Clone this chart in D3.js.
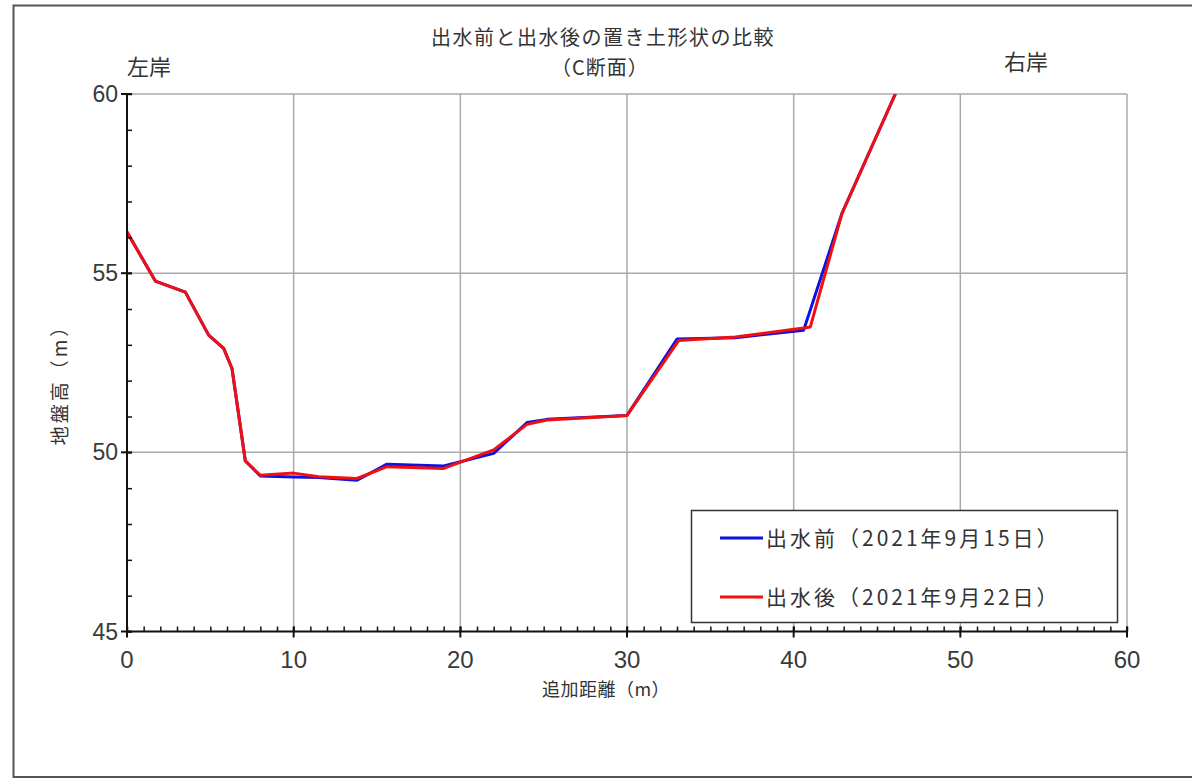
<!DOCTYPE html>
<html>
<head>
<meta charset="utf-8">
<script src="https://cdn.jsdelivr.net/npm/d3@7"></script>
<style>
  html, body { margin: 0; padding: 0; background: #fff; }
  svg { display: block; }
  text { font-family: "Noto Sans CJK JP", "Noto Sans", sans-serif; fill: #333; }
  .num { font-family: "Liberation Sans", Arial, sans-serif; fill: #3a3a3a; }
</style>
</head>
<body>
<svg id="chart" width="1192" height="778"></svg>
<script>
// Cross-section survey: distance along section (m) vs ground elevation (m)
const beforeDist = [0, 1.7, 3.5, 4.9, 5.8, 6.3, 7.1, 8.0, 10.0, 11.5, 13.8, 15.6, 19.0, 22.0, 24.0, 25.2, 30.0, 33.0, 36.5, 40.6, 42.9, 46.1];
const beforeElev = [56.15, 54.78, 54.47, 53.27, 52.9, 52.34, 49.76, 49.34, 49.31, 49.3, 49.22, 49.67, 49.62, 49.97, 50.83, 50.92, 51.03, 53.16, 53.2, 53.41, 56.67, 60.0];

const afterDist = [0, 1.7, 3.5, 4.9, 5.8, 6.3, 7.1, 8.0, 10.0, 11.5, 13.8, 15.6, 19.0, 22.0, 24.0, 25.2, 30.0, 33.1, 36.5, 40.6, 41.0, 42.9, 46.1];
const afterElev = [56.15, 54.78, 54.47, 53.27, 52.9, 52.34, 49.76, 49.36, 49.42, 49.32, 49.27, 49.6, 49.55, 50.07, 50.78, 50.9, 51.03, 53.12, 53.22, 53.47, 53.5, 56.67, 60.0];

const xTicks = [0, 10, 20, 30, 40, 50, 60];
const yTicks = [45, 50, 55, 60];

const seriesNames = ["出水前（2021年9月15日）", "出水後（2021年9月22日）"];
const seriesColors = ["#1010e0", "#f01010"];

const titleText = "出水前と出水後の置き土形状の比較";
const subtitleText = "（C断面）";
const leftBank = "左岸";
const rightBank = "右岸";
const xLabel = "追加距離（m）";
const yLabel = "地盤高（m）";

const svg = d3.select("#chart");

// outer frame
svg.append("rect")
  .attr("x", 13.5).attr("y", 5.5).attr("width", 1190).attr("height", 771.5)
  .attr("fill", "#fff").attr("stroke", "#555").attr("stroke-width", 2);

const plot = { left: 127, right: 1127, top: 94, bottom: 631.5 };

const x = d3.scaleLinear().domain([0, 60]).range([plot.left, plot.right]);
const y = d3.scaleLinear().domain([45, 60]).range([plot.bottom, plot.top]);

// grid
const grid = svg.append("g").attr("stroke", "#aaa").attr("stroke-width", 1.5);
grid.selectAll("line.v").data(xTicks.slice(1)).join("line")
  .attr("x1", d => x(d)).attr("x2", d => x(d))
  .attr("y1", plot.top).attr("y2", plot.bottom);
grid.selectAll("line.h").data(yTicks.slice(1)).join("line")
  .attr("x1", plot.left).attr("x2", plot.right)
  .attr("y1", d => y(d)).attr("y2", d => y(d));

// clip for series
svg.append("clipPath").attr("id", "clip")
  .append("rect")
  .attr("x", plot.left).attr("y", plot.top)
  .attr("width", plot.right - plot.left).attr("height", plot.bottom - plot.top);

const line = d3.line().x(d => x(d[0])).y(d => y(d[1]));
const seriesData = [
  d3.zip(beforeDist, beforeElev),
  d3.zip(afterDist, afterElev)
];
svg.append("g").attr("clip-path", "url(#clip)")
  .selectAll("path").data(seriesData).join("path")
  .attr("d", line)
  .attr("fill", "none")
  .attr("stroke", (d, i) => seriesColors[i])
  .attr("stroke-width", 3)
  .attr("stroke-linejoin", "round");

// x axis: minor ticks inward, major ticks across
const xAxis = svg.append("g").attr("transform", `translate(0,${plot.bottom})`);
xAxis.call(d3.axisBottom(x).tickValues(d3.range(0, 61, 1)).tickSize(-5).tickFormat(""))
  .call(g => g.select(".domain").remove());
xAxis.selectAll(".tick line").attr("stroke", "#111").attr("stroke-width", 1.5);
const xMajor = svg.append("g").attr("transform", `translate(0,${plot.bottom})`);
xMajor.selectAll("line").data(xTicks).join("line")
  .attr("x1", d => x(d)).attr("x2", d => x(d))
  .attr("y1", -5).attr("y2", 6)
  .attr("stroke", "#111").attr("stroke-width", 2);
xMajor.append("line").attr("x1", plot.left).attr("x2", plot.right)
  .attr("stroke", "#111").attr("stroke-width", 2);
xMajor.selectAll("text").data(xTicks).join("text")
  .attr("class", "num")
  .attr("x", d => x(d)).attr("y", 36)
  .attr("text-anchor", "middle")
  .attr("font-size", 24)
  .text(d => d);

// y axis
const yAxis = svg.append("g").attr("transform", `translate(${plot.left},0)`);
yAxis.call(d3.axisLeft(y).tickValues(d3.range(45, 61, 1)).tickSize(-5).tickFormat(""))
  .call(g => g.select(".domain").remove());
yAxis.selectAll(".tick line").attr("stroke", "#111").attr("stroke-width", 1.5);
const yMajor = svg.append("g").attr("transform", `translate(${plot.left},0)`);
yMajor.selectAll("line").data(yTicks).join("line")
  .attr("x1", -6).attr("x2", 5)
  .attr("y1", d => y(d)).attr("y2", d => y(d))
  .attr("stroke", "#111").attr("stroke-width", 2);
yMajor.append("line").attr("y1", plot.top).attr("y2", plot.bottom)
  .attr("stroke", "#111").attr("stroke-width", 2);
yMajor.selectAll("text").data(yTicks).join("text")
  .attr("class", "num")
  .attr("x", -9).attr("y", d => y(d) + 8)
  .attr("text-anchor", "end")
  .attr("font-size", 23)
  .text(d => d);

// titles
svg.append("text").attr("x", 603).attr("y", 45).attr("text-anchor", "middle")
  .attr("font-size", 20).attr("letter-spacing", 1.5).text(titleText);
svg.append("text").attr("x", 600).attr("y", 75).attr("text-anchor", "middle")
  .attr("font-size", 20).attr("letter-spacing", 1).text(subtitleText);
svg.append("text").attr("x", 127).attr("y", 75)
  .attr("font-size", 22).text(leftBank);
svg.append("text").attr("x", 1004).attr("y", 70)
  .attr("font-size", 22).text(rightBank);

// axis labels
svg.append("text").attr("x", 606).attr("y", 696).attr("text-anchor", "middle")
  .attr("font-size", 18).attr("letter-spacing", 0.5).text(xLabel);
svg.append("text")
  .attr("transform", "translate(67,380) rotate(-90)")
  .attr("text-anchor", "middle")
  .attr("font-size", 19).attr("letter-spacing", 3).text(yLabel);

// legend
const legend = svg.append("g");
legend.append("rect")
  .attr("x", 691.5).attr("y", 510.5).attr("width", 426).attr("height", 112)
  .attr("fill", "#fff").attr("stroke", "#333").attr("stroke-width", 1.5);
const legendRows = [538, 597];
legend.selectAll("line").data(seriesNames).join("line")
  .attr("x1", 720).attr("x2", 763)
  .attr("y1", (d, i) => legendRows[i]).attr("y2", (d, i) => legendRows[i])
  .attr("stroke", (d, i) => seriesColors[i]).attr("stroke-width", 3);
legend.selectAll("text").data(seriesNames).join("text")
  .attr("x", 766).attr("y", (d, i) => legendRows[i] + 8)
  .attr("font-size", 21).attr("letter-spacing", 3)
  .text(d => d);
</script>
</body>
</html>
